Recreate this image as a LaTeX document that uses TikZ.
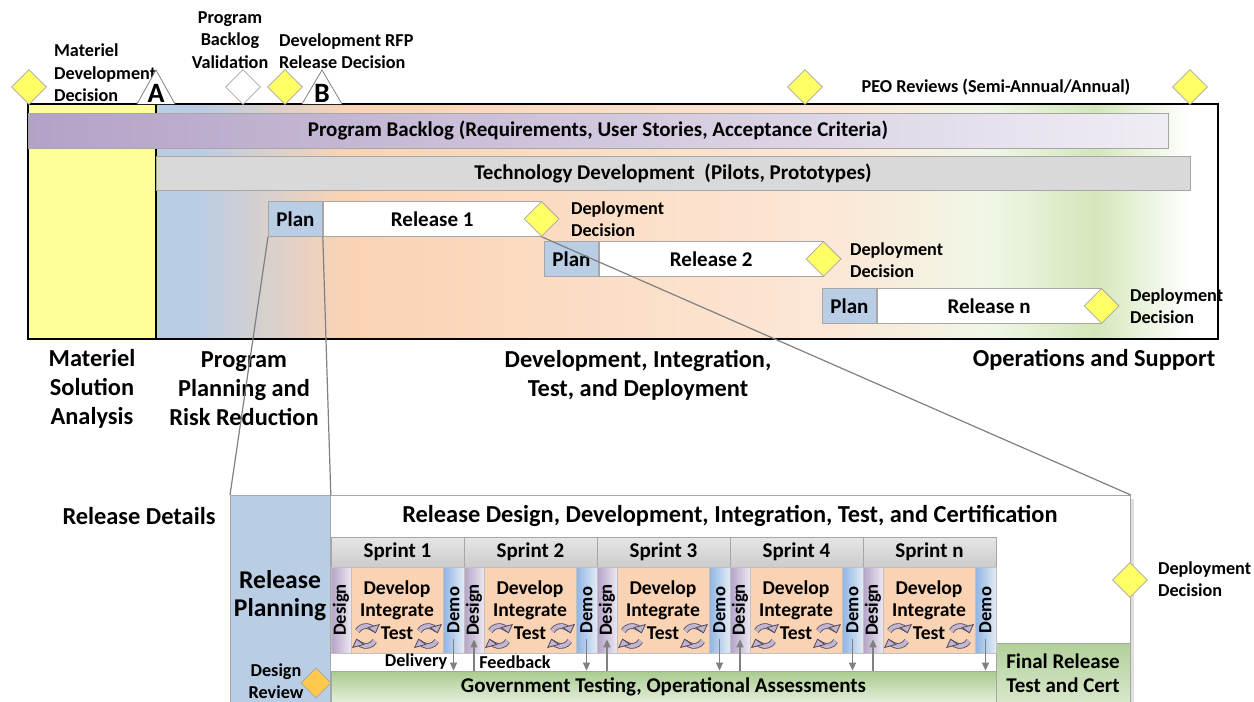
\documentclass[tikz,border=0pt]{standalone}
\usepackage{fontspec}
\setmainfont{Carlito}
\usetikzlibrary{shapes.geometric,arrows.meta,shadows}
\definecolor{msaY}{HTML}{FFFF99}
\definecolor{msY}{HTML}{FFFF66}
\definecolor{planB}{HTML}{B9CDE5}
\definecolor{demoB}{HTML}{8EB4E3}
\definecolor{peach}{HTML}{FAD3B4}
\definecolor{lilac}{HTML}{B3A2C7}
\definecolor{sage}{HTML}{D4E7BA}
\definecolor{govG}{HTML}{A9CB8E}
\definecolor{edge}{HTML}{A6A6A6}
\definecolor{revO}{HTML}{FFC94D}
\begin{document}
\begin{tikzpicture}[x=.5pt,y=-.5pt,
 big/.style={font=\fontsize{12.2}{14.5}\selectfont\bfseries,align=center},
 mid/.style={font=\fontsize{10.5}{12}\selectfont\bfseries},
 sml/.style={font=\fontsize{9.1}{11.3}\selectfont\bfseries,align=left},
 vtxt/.style={font=\fontsize{9.3}{10}\selectfont\bfseries,rotate=90,inner sep=0},
 ms/.style={diamond,draw=edge,fill=msY,inner sep=0,minimum size=17.5pt},
 bx/.style={draw=edge,inner sep=0,mid},
 plan/.style={bx,fill=planB,minimum width=27pt,minimum height=17.5pt},
 rel/.style={bx,fill=white,minimum width=112pt,minimum height=17.5pt},
 col/.style={draw=edge!70,inner sep=0,minimum height=43pt},
 zoomln/.style={draw=gray,line width=.6pt},
 fb/.style={draw=gray,line width=.7pt,-{Triangle[length=4pt,width=3.5pt]}},
 cyc/.pic={\foreach \a in {30,210}
   \draw[draw=lilac!45!black,line width=.4pt,double=lilac!80,double distance=2pt,-{Triangle[length=4pt,width=6.5pt,fill=lilac!80]}] (\a:10) arc (\a:\a+135:10);}]
\useasboundingbox (0,0) rectangle (1254,702);
% phases backdrop
\fill[msaY] (28,104) rectangle (156,339);
\fill[planB] (156,104) rectangle (196,339);
\shade[left color=planB,right color=peach] (196,104) rectangle (345,339);
\shade[left color=peach,right color=peach!55] (345,104) rectangle (830,339);
\shade[left color=peach!55,right color=sage!35] (830,104) rectangle (990,339);
\shade[left color=sage!35,right color=sage] (990,104) rectangle (1095,339);
\shade[left color=sage,right color=white] (1095,104) rectangle (1190,339);
\draw[line width=1.2pt] (28,104) rectangle (1218,339) (156,104)--(156,339);
% milestones
\node[ms] (mdd) at (29,87) {};
\node[sml,anchor=west] (mddt) at (47,73) {Materiel\\Development\\Decision};
\draw[draw=gray,fill=white] (137,104)--(156,70)--(175,104);
\node[big,font=\fontsize{14}{14}\selectfont\bfseries] (msA) at (156,93) {A};
\node[ms,fill=white] (pbv) at (243,87) {};
\node[sml,align=center] (pbvt) at (230,40) {Program\\Backlog\\Validation};
\node[ms] (rfp) at (285,87) {};
\node[sml,anchor=west] (rfpt) at (272,51) {Development RFP\\Release Decision};
\draw[draw=gray,fill=white] (302,104)--(322,70)--(342,104);
\node[big,font=\fontsize{14}{14}\selectfont\bfseries] (msB) at (322,93) {B};
\node[ms] (peo1) at (805,87) {};
\node[ms] (peo2) at (1190,87) {};
\node[sml] (peot) at (996,87) {PEO Reviews (Semi-Annual/Annual)};
% bars
\node[bx,left color=lilac,right color=lilac!20,minimum width=570pt,minimum height=17.5pt] (pb) at (598,130.5) {Program Backlog (Requirements, User Stories, Acceptance Criteria)};
\node[bx,fill=gray!30,minimum width=517pt,minimum height=17pt] (td) at (673,173) {Technology Development\ \ (Pilots, Prototypes)};
% releases
\node[plan,anchor=north west] (p1) at (268,201) {Plan};
\node[rel,anchor=west,minimum width=109pt] (r1) at (p1.east) {Release 1};
\node[ms] (dd1) at (r1.east) {};
\node[sml,anchor=west] (dd1t) at (564,219) {Deployment\\Decision};
\node[plan,anchor=north west] (p2) at (544,241) {Plan};
\node[rel,anchor=west] (r2) at (p2.east) {Release 2};
\node[ms] (dd2) at (r2.east) {};
\node[sml,anchor=west] (dd2t) at (843,260) {Deployment\\Decision};
\node[plan,anchor=north west] (p3) at (822,288) {Plan};
\node[rel,anchor=west] (r3) at (p3.east) {Release n};
\node[ms] (dd3) at (r3.east) {};
\node[sml,anchor=west] (dd3t) at (1123,306) {Deployment\\Decision};
% phase names
\node[big] (msa) at (92,389) {Materiel\\Solution\\Analysis};
\node[big] (ppr) at (244,389) {Program\\Planning and\\Risk Reduction};
\node[big] (dit) at (638,375) {Development, Integration,\\Test, and Deployment};
\node[big] (ops) at (1094,360) {Operations and Support};
% release details
\node[draw=edge,fill=white,drop shadow={opacity=.25,shadow xshift=2pt,shadow yshift=-2pt},minimum width=400pt,minimum height=110pt,anchor=north west,inner sep=0] (det) at (330,495) {};
\node[draw=edge,fill=planB,minimum width=50pt,minimum height=110pt,anchor=north west,inner sep=0] (rp) at (230,495) {};
\draw[zoomln] (p1.south west) -- (rp.north west) (p1.south east) -- (rp.north east) (dd1.south) -- (det.north east);
\node[big] (rdt) at (139,516) {Release Details};
\node[big] (rdd) at (730,516) {Release Design, Development, Integration, Test, and Certification};
\node[big,font=\fontsize{12.8}{14}\selectfont\bfseries] (rpl) at (280,596) {Release\\Planning};
\node[bx,top color=govG,bottom color=govG!30,minimum width=332.5pt,minimum height=16pt] (gov) at (663.5,687) {Government Testing, Operational Assessments};
\node[bx,align=center,top color=govG!90,bottom color=govG!45,minimum width=67pt,minimum height=30pt] (frt) at (1063,673) {Final Release\\Test and Cert};
% sprints
\foreach \i/\s in {0/1,1/2,2/3,3/4,4/n}{
\begin{scope}[shift={(133*\i,0)}]
\node[bx,top color=gray!20,bottom color=gray!40,minimum width=66.5pt,minimum height=15pt] (sp\i) at (397.5,552) {Sprint \s};
\node[col,left color=lilac,right color=lilac!25,minimum width=10pt] (ds\i) at (341,610) {};
\node[vtxt] at (ds\i) {Design};
\node[col,fill=peach,minimum width=46pt,align=center,font=\fontsize{9.8}{11.3}\selectfont\bfseries] (dv\i) at (397,610) {Develop\\Integrate\\Test};
\node[col,left color=demoB,right color=planB!40,minimum width=10.5pt] (dm\i) at (453.5,610) {};
\node[vtxt] at (dm\i) {Demo};
\pic at (366,636) {cyc};
\pic at (428,636) {cyc};
\end{scope}}
\foreach \i in {0,...,4} \draw[fb] ([yshift=7pt]dm\i.south) -- (dm\i.south |- gov.north);
\foreach \i in {1,...,4} \draw[fb] (ds\i.south |- gov.north) -- ([yshift=7pt]ds\i.south);
\node[sml] (dlv) at (416,662) {Delivery};
\node[sml] (fdb) at (515,662) {Feedback};
\node[ms,fill=revO,minimum size=15pt] (drv) at (316,683) {};
\node[sml,align=center] (drvt) at (276,681) {Design\\Review};
\node[ms] (dd4) at (1130,580) {};
\node[sml,anchor=west] (dd4t) at (1151,579) {Deployment\\Decision};
\end{tikzpicture}
\end{document}
